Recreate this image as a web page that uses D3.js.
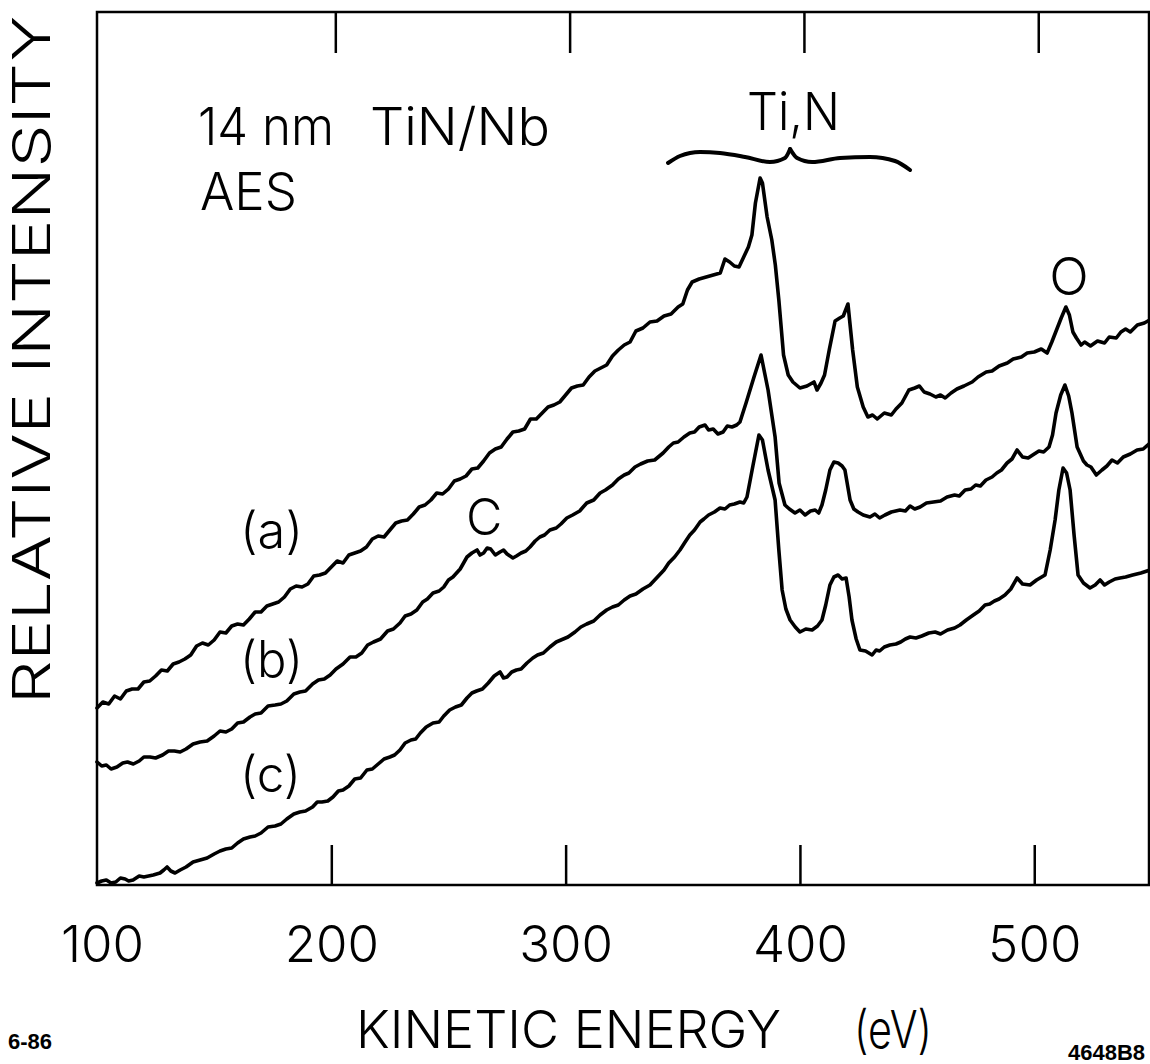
<!DOCTYPE html>
<html><head><meta charset="utf-8">
<script src="https://cdn.jsdelivr.net/npm/d3@7"></script>
<style>
html,body{margin:0;padding:0;background:#fff;}
svg{display:block;}
.lt{font-family:Inter,"Open Sans",Lato,"DejaVu Sans",sans-serif;font-weight:300;fill:#000;}
.sm{font-family:"Liberation Sans",Arial,sans-serif;font-weight:bold;fill:#000;}
</style></head>
<body>
<script>
// ---- data (kinetic energy eV, relative intensity arb. units) ----
const xTicks = [100, 200, 300, 400, 500];
const xTickLabels = ["100", "200", "300", "400", "500"];
const seriesLabels = ["(a)", "(b)", "(c)"];

const curveA = [[100,17.7],[102.5,18.3],[105,18.1],[107.5,18.9],[110,18.6],[112.5,19.4],[115,19.6],[117.5,19.6],[120,20.3],[122.5,20.4],[125,20.9],[127.5,21.5],[130,21.4],[132.5,22.1],[135,22.3],[137.5,22.6],[140,23.0],[142.5,23.9],[145,24.2],[147.5,24.0],[150,24.5],[152.5,25.3],[155,25.2],[157.5,25.9],[160,26.1],[162.5,26.0],[165,26.6],[167.5,27.3],[170,27.3],[172.5,27.9],[175,28.1],[177.5,28.3],[180,28.8],[182.5,29.6],[185,29.9],[187.5,29.8],[190,30.1],[192.5,30.9],[195,31.0],[197.5,31.2],[200,31.8],[202.5,32.4],[205,32.2],[207.5,33.0],[210,33.2],[212.5,33.4],[215,33.8],[217.5,34.6],[220,34.9],[222.5,34.8],[225,35.5],[227.5,36.2],[230,36.4],[232.5,36.5],[235,37.1],[237.5,37.8],[240,38.0],[242.5,38.5],[245,39.2],[247.5,39.1],[250,39.6],[252.5,40.4],[255,40.6],[257.5,40.9],[260,41.6],[262.5,41.7],[265,42.4],[267.5,43.2],[270,43.6],[272.5,43.8],[275,44.6],[277.5,45.3],[280,45.4],[282.5,45.6],[285,46.6],[287.5,46.6],[290,47.2],[292.5,47.8],[295,48.0],[297.5,48.3],[300,49.0],[302.5,49.7],[305,49.9],[307.5,50.0],[310,50.8],[312.5,51.4],[315,51.7],[317.5,52.0],[320,52.9],[322.5,53.5],[325,54.0],[327.5,54.3],[330,55.4],[333,55.7],[336,56.3],[339,56.4],[342,56.9],[345,57.1],[348,57.8],[350,58.1],[352,59.5],[354,60.3],[357,60.6],[360,60.8],[363,61.0],[366,61.2],[368,62.6],[370,62.3],[372,61.9],[374,61.8],[376,62.8],[378,63.8],[379.5,65.0],[381,68.2],[383,70.7],[384,70.2],[386,66.8],[388,64.5],[389.5,62.0],[391,58.5],[393,53.0],[395,51.0],[397,50.3],[400,49.7],[403,49.9],[406,50.3],[407.3,49.5],[409,50.2],[410.5,51.0],[412.5,53.5],[415,56.4],[417,56.7],[418.5,56.9],[420.5,58.1],[422.5,53.5],[424.5,49.8],[427,47.8],[429,46.8],[431,47.0],[433,46.6],[436,47.2],[439,47.0],[441,47.6],[443.5,48.2],[446.5,49.5],[449,49.7],[451,49.9],[453,49.3],[455.5,49.1],[458,48.8],[460,49.0],[462,48.7],[464.5,49.2],[467,49.6],[470,49.9],[473.5,50.3],[476,50.8],[479.5,51.3],[482,51.4],[485,51.9],[488.5,52.2],[491,52.6],[494.5,52.8],[497,53.2],[500,53.3],[503,53.6],[505.5,53.2],[507.5,54.3],[509.5,55.5],[511.5,56.7],[513.5,57.8],[515,57.0],[516.5,55.3],[518,54.7],[520,54.0],[521.5,54.3],[524,53.9],[527,54.4],[530,54.2],[532,54.8],[535,54.7],[537,55.3],[539,55.6],[541,55.3],[544,56.0],[547,56.2],[550,56.6]];

const curveB = [[100,12.3],[102,11.9],[104,12.0],[106,11.6],[108.5,11.8],[111,12.2],[113,12.3],[115.5,12.1],[118,12.4],[120,12.8],[122.6,12.8],[125,12.7],[128,13.0],[130.5,13.4],[133,13.4],[135.5,13.3],[138,13.6],[141,14.1],[144,14.3],[147,14.4],[150,14.9],[152.5,15.4],[155,15.3],[157.5,15.6],[160,16.2],[162.5,16.3],[165.3,16.8],[167.5,17.1],[170,17.2],[173,17.9],[176,18.0],[178.5,18.1],[181,18.4],[184,19.1],[186.6,19.3],[189,19.4],[192,20.1],[194.5,20.5],[197,20.6],[199.5,21.0],[202,21.6],[205,22.1],[208,22.8],[210.5,22.8],[213,23.2],[215.5,24.0],[218,24.3],[221,24.6],[224,25.4],[226.5,25.6],[229.3,26.2],[231.5,26.9],[234,27.1],[236.5,27.5],[239,28.3],[241,28.6],[243.4,29.2],[246,29.4],[248,29.8],[250,30.5],[251.9,30.8],[255,31.6],[257.9,32.8],[260,33.2],[262.2,33.5],[263.5,33.0],[265,33.2],[266.5,33.7],[268,33.6],[270,33.0],[272,33.3],[273.5,33.5],[275,33.1],[277.5,32.7],[279,32.9],[281,33.2],[283,33.4],[284.8,33.8],[287,34.4],[289,34.8],[291,35.0],[293.3,35.5],[296,35.7],[298,36.1],[300.5,36.7],[303,37.0],[306,37.4],[309,38.2],[312,38.5],[314.7,39.2],[317,39.5],[320,40.0],[322.5,40.6],[325,41.0],[327,41.2],[329.6,41.8],[332,42.1],[335,42.4],[338,42.5],[341.6,43.2],[344,43.8],[346,44.2],[348,44.3],[350.5,44.8],[353,45.2],[355,45.3],[357,45.8],[359.5,46.0],[361,45.5],[363,45.6],[365,45.1],[367.2,45.3],[369,45.9],[371,45.8],[373,46.0],[374.4,46.3],[377,48.2],[380.4,50.8],[383.4,53.0],[386.4,49.5],[389.4,44.8],[391.1,40.2],[393.6,38.0],[395.5,37.6],[397.9,37.2],[400,37.5],[402.2,37.0],[404.5,37.4],[406.5,37.5],[408,37.2],[409.4,38.0],[411,39.5],[412.8,41.5],[414.5,42.3],[416.3,42.2],[418,41.9],[419.2,41.5],[421.4,38.5],[423,37.6],[424.8,37.3],[427,37.0],[429.9,36.8],[432,37.1],[434,36.7],[436.3,37.0],[439,37.3],[442.7,37.5],[445,37.4],[447,37.9],[449,37.6],[451.3,37.8],[454,38.2],[457,38.3],[460,38.4],[462.8,38.8],[466,39.0],[468,38.9],[470.5,39.5],[473,39.6],[475,40.0],[477,39.9],[479.4,40.5],[482,40.8],[484,41.2],[486,41.5],[488.4,42.2],[490.5,42.6],[492.7,43.5],[495,42.8],[497.4,42.7],[500,43.1],[502,43.4],[504,43.3],[506.3,43.8],[507.8,45.0],[509.3,47.2],[511.3,49.0],[513.1,50.0],[514.7,48.9],[516.1,47.2],[518.3,43.8],[521,42.4],[522.5,42.0],[524.2,41.8],[526.5,41.0],[528.9,41.5],[531,41.9],[533.2,42.5],[535.5,42.2],[538,42.8],[541,43.1],[543.9,43.5],[546.5,43.6],[549.4,44.2]];

const curveC = [[100,0.2],[102,0.4],[104,0.5],[106,0.2],[108,0.3],[110,0.7],[112,0.6],[113.5,0.4],[115.4,0.5],[118,0.9],[120,0.8],[122,0.9],[124,1.0],[126.9,1.2],[128.5,1.5],[129.9,1.8],[131.5,1.4],[133.3,1.2],[135.5,1.5],[138,1.8],[141,2.3],[144,2.5],[147,2.7],[150,3.1],[152.5,3.4],[155,3.6],[157.5,3.7],[160,4.2],[162.5,4.6],[165.3,4.8],[167.5,4.9],[170,5.2],[173,5.8],[176,5.9],[178.5,6.1],[181,6.6],[184,7.1],[186.6,7.3],[189,7.4],[192,7.8],[194,8.3],[196,8.3],[198.5,8.4],[200.7,8.8],[203,9.4],[205,9.5],[207.5,9.9],[210,10.6],[212.5,10.7],[215.2,11.5],[217.5,11.6],[220,12.1],[222.5,12.6],[225,12.8],[227,13.0],[229.3,13.5],[231.5,14.2],[234,14.5],[236,14.6],[238,15.2],[240.5,15.8],[243.4,16.2],[246,16.3],[248,16.9],[250.5,17.5],[253,17.8],[255.5,18.0],[257.9,18.7],[260,19.2],[262,19.4],[264.5,19.6],[267,20.2],[269.5,20.9],[272,21.3],[273.5,20.7],[275,20.8],[277,21.3],[279,21.5],[281,21.6],[283.5,22.2],[286,22.7],[288,23.0],[290.5,23.2],[293.3,23.8],[296,24.3],[298,24.5],[301,24.8],[304,25.3],[306.5,25.8],[309,26.1],[312,26.4],[314.7,27.0],[317.5,27.5],[320,27.8],[322.5,28.0],[325,28.5],[327.5,28.9],[330,29.1],[333,29.6],[336,30.0],[338,30.5],[340,31.0],[342,31.5],[344,32.2],[346.5,32.8],[348.8,33.5],[351,34.3],[353,35.0],[355,35.5],[357.4,36.3],[359,36.6],[361,37.0],[363.5,37.3],[365.9,37.7],[368,37.6],[370,38.0],[372,38.1],[374.4,38.3],[376,38.2],[377.4,38.8],[380,42.0],[382.5,45.0],[384,44.5],[386.4,41.5],[389.4,38.5],[391,33.5],[392.4,29.5],[394,27.6],[395.8,26.5],[398,25.8],[400,25.3],[402.5,25.6],[405.2,25.5],[407.5,25.9],[409.4,26.5],[411,28.0],[412.8,30.0],[414.5,30.8],[416.3,31.0],[418,30.6],[419.7,30.7],[421,28.8],[422.2,26.5],[424,24.6],[425.6,23.5],[428,23.4],[430.8,23.0],[432.5,23.5],[434,23.4],[436,23.8],[438.4,24.0],[441,24.1],[443,24.3],[445,24.6],[447,24.8],[449.5,24.7],[452,24.9],[455,25.2],[457.7,25.3],[460,25.1],[463,25.5],[466,25.7],[468.3,26.0],[471,26.5],[474,27.0],[476.5,27.4],[479,28.0],[481,28.1],[483,28.4],[485,28.6],[487.5,29.0],[490,29.6],[492.7,30.7],[495,30.1],[498.2,30.0],[501,30.5],[504.6,31.0],[506.8,33.5],[508.9,36.5],[510.5,39.5],[512.3,41.7],[513.8,41.2],[515.3,39.5],[517,35.0],[518.7,31.0],[521,30.2],[523.8,29.7],[526,30.0],[528.1,30.5],[530,30.0],[532,30.3],[534.5,30.6],[536.6,30.7],[539,30.8],[542,31.0],[545.5,31.2],[549.4,31.5]];

const series = [curveA, curveB, curveC];

// brace spanning the Ti,N region (energy, intensity)
const braceLeft = [[343.7,72.2],[348.8,72.9],[357.4,73.3],[365.9,73.2],[376.6,72.8],[387.2,72.3],[393.6,72.7],[395.8,73.6]];
const braceRight = [[395.8,73.6],[398.8,72.7],[405.2,72.3],[417.1,72.7],[429.9,72.8],[440.6,72.4],[447.0,71.5]];

// ---- layout ----
const W = 1150, H = 1064;
const x = d3.scaleLinear().domain([100, 550]).range([97, 1151.4]);
const y = d3.scaleLinear().domain([0, 87.3]).range([885, 12]);

const svg = d3.select("body").append("svg").attr("width", W).attr("height", H);

// frame
svg.append("rect").attr("x", 97).attr("y", 12).attr("width", 1052).attr("height", 873)
  .attr("fill", "none").attr("stroke", "#000").attr("stroke-width", 2.5);

// bottom axis: inward ticks + labels
const gx = svg.append("g").attr("transform", "translate(0,885)")
  .call(d3.axisBottom(x).tickValues(xTicks).tickSize(-40).tickPadding(41)
    .tickFormat((d, i) => xTickLabels[i]));
gx.select(".domain").remove();
gx.selectAll(".tick line").attr("stroke", "#000").attr("stroke-width", 2.5)
  .filter(d => d === 100).remove();
gx.selectAll(".tick text").attr("class", "lt").attr("font-size", 51).attr("fill", "#000")
  .attr("dx", d => d === 100 ? 5 : 0);

// top axis: inward ticks, no labels (slightly offset in the original artwork)
const gt = svg.append("g").attr("transform", "translate(4,12)")
  .call(d3.axisTop(x).tickValues(xTicks.slice(1)).tickSize(-41).tickFormat(""));
gt.select(".domain").remove();
gt.selectAll(".tick line").attr("stroke", "#000").attr("stroke-width", 2.5);

// curves
const line = d3.line().x(d => x(d[0])).y(d => y(d[1]));
svg.append("g").selectAll("path").data(series).join("path")
  .attr("d", line).attr("fill", "none").attr("stroke", "#000")
  .attr("stroke-width", 3.6).attr("stroke-linejoin", "round").attr("stroke-linecap", "round");

// brace
const braceLine = d3.line().x(d => x(d[0])).y(d => y(d[1])).curve(d3.curveMonotoneX);
svg.append("g").selectAll("path").data([braceLeft, braceRight]).join("path")
  .attr("d", braceLine).attr("fill", "none").attr("stroke", "#000")
  .attr("stroke-width", 4).attr("stroke-linecap", "round").attr("stroke-linejoin", "round");

// text
function txt(s, px, py, size, len, anchor) {
  const t = svg.append("text").attr("class", "lt").attr("x", px).attr("y", py)
    .attr("font-size", size).attr("text-anchor", anchor || "start").text(s);
  if (len) t.attr("textLength", len).attr("lengthAdjust", "spacingAndGlyphs");
  return t;
}
svg.append("text").attr("class", "lt").attr("font-size", 52)
  .attr("transform", "translate(50,360) rotate(-90)").attr("text-anchor", "middle")
  .attr("textLength", 688).attr("lengthAdjust", "spacingAndGlyphs").text("RELATIVE INTENSITY");
txt("KINETIC ENERGY", 356, 1048, 52, 425);
txt("(eV)", 854, 1048, 52, 78);

const t14 = svg.append("text").attr("class", "lt").attr("y", 145).attr("font-size", 52);
t14.append("tspan").attr("x", 198).attr("textLength", 50).attr("lengthAdjust", "spacingAndGlyphs").text("14");
t14.append("tspan").attr("x", 262).attr("textLength", 72).attr("lengthAdjust", "spacingAndGlyphs").text("nm");
t14.append("tspan").attr("x", 370).attr("textLength", 180).attr("lengthAdjust", "spacingAndGlyphs").text("TiN/Nb");

txt("AES", 200, 210, 52, 97);
txt("Ti,N", x(377.4), 130, 52, 93);
txt("O", x(514.8), 295, 52, null, "middle");
txt("C", x(265.2), 535, 50, null, "middle");
txt(seriesLabels[0], 240, 548, 50, 63);
txt(seriesLabels[1], 240, 677, 50, 63);
txt(seriesLabels[2], 240, 792, 50, 61);

svg.append("text").attr("class", "sm").attr("x", 8).attr("y", 1049).attr("font-size", 22).text("6-86");
svg.append("text").attr("class", "sm").attr("x", 1068).attr("y", 1060).attr("font-size", 22).text("4648B8");
</script>
</body></html>
